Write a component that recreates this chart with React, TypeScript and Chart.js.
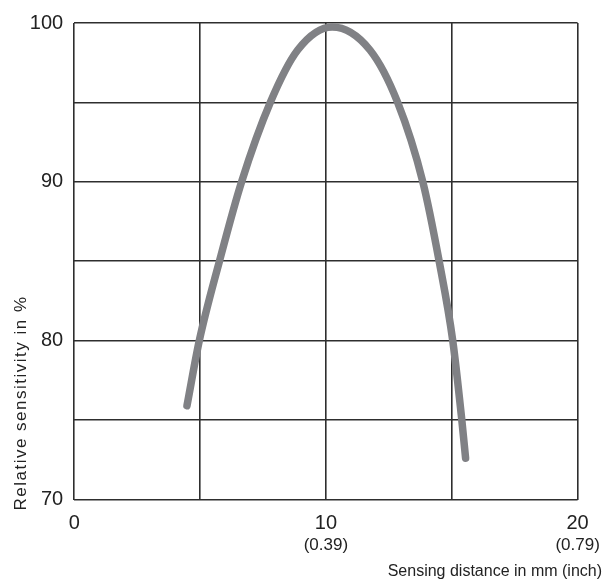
import React, { useEffect, useRef } from "react";
import { Chart, registerables } from "chart.js";

Chart.register(...registerables);

const distanceMm = [4.48, 4.97, 5.77, 6.65, 7.79, 8.88, 10.25, 11.75, 12.85, 13.85, 14.5, 15.04, 15.4, 15.55];
const sensitivity = [75.9, 80, 85, 90, 95, 98.3, 99.75, 98.3, 95, 90, 85, 80, 75, 72.6];
const xTickLabels = [0, 10, 20];
const xInchLabels: Record<number, string> = { 10: "(0.39)", 20: "(0.79)" };
const yTickLabels = [70, 80, 90, 100];
const xTitle = "Sensing distance in mm (inch)";
const yTitle = "Relative sensitivity in %";

const FONT = "'Liberation Sans', Arial, sans-serif";

const extraText = {
  id: "extraText",
  afterDraw(chart: any) {
    const ctx = chart.ctx;
    const xs = chart.scales.x;
    const area = chart.chartArea;
    ctx.save();
    ctx.fillStyle = "#222";
    ctx.font = `17px ${FONT}`;
    ctx.textAlign = "center";
    ctx.textBaseline = "middle";
    Object.keys(xInchLabels).forEach((k) => {
      const v = Number(k);
      ctx.fillText(xInchLabels[v], xs.getPixelForValue(v), area.bottom + 45.5);
    });
    ctx.font = `16px ${FONT}`;
    ctx.textAlign = "right";
    ctx.fillText(xTitle, chart.width - 1, area.bottom + 72.5);
    ctx.translate(21, 403);
    ctx.rotate(-Math.PI / 2);
    ctx.textAlign = "center";
    ctx.font = `17px ${FONT}`;
    (ctx as any).letterSpacing = "1.5px";
    ctx.fillText(yTitle, 0, 0);
    ctx.restore();
  },
};

export default function App() {
  const ref = useRef<HTMLCanvasElement>(null);
  useEffect(() => {
    document.body.style.margin = "0";
    const chart = new Chart(ref.current as HTMLCanvasElement, {
      type: "scatter",
      data: {
        datasets: [
          {
            data: distanceMm.map((x, i) => ({ x, y: sensitivity[i] })),
            showLine: true,
            borderColor: "#808185",
            borderWidth: 7.5,
            borderCapStyle: "round",
            borderJoinStyle: "round",
            pointRadius: 0,
            cubicInterpolationMode: "monotone",
            clip: false as any,
          },
        ],
      },
      options: {
        animation: false,
        responsive: false,
        layout: { padding: { left: 0, top: 16, right: 25.4, bottom: 0 } },
        plugins: { legend: { display: false }, tooltip: { enabled: false } },
        scales: {
          x: {
            type: "linear",
            min: 0,
            max: 20,
            afterFit: (s: any) => {
              s.height = 84.5;
            },
            border: { display: false },
            grid: { color: "#2e2e2e", lineWidth: 1.6, drawTicks: false },
            ticks: {
              stepSize: 5,
              padding: 12,
              color: "#222",
              font: { family: FONT, size: 20 },
              maxRotation: 0,
              autoSkip: false,
              callback: (v: any) => (xTickLabels.includes(Number(v)) ? String(v) : ""),
            },
          },
          y: {
            min: 70,
            max: 100,
            afterFit: (s: any) => {
              s.width = 74.2;
            },
            border: { display: false },
            grid: { color: "#2e2e2e", lineWidth: 1.6, drawTicks: false },
            ticks: {
              stepSize: 5,
              padding: 11,
              color: "#222",
              font: { family: FONT, size: 20 },
              autoSkip: false,
              callback: (v: any) => (yTickLabels.includes(Number(v)) ? String(v) : ""),
            },
          },
        },
      },
      plugins: [extraText],
    } as any);
    return () => chart.destroy();
  }, []);
  return (
    <div style={{ width: 603, height: 584 }}>
      <canvas ref={ref} width={603} height={584} style={{ display: "block" }} />
    </div>
  );
}
